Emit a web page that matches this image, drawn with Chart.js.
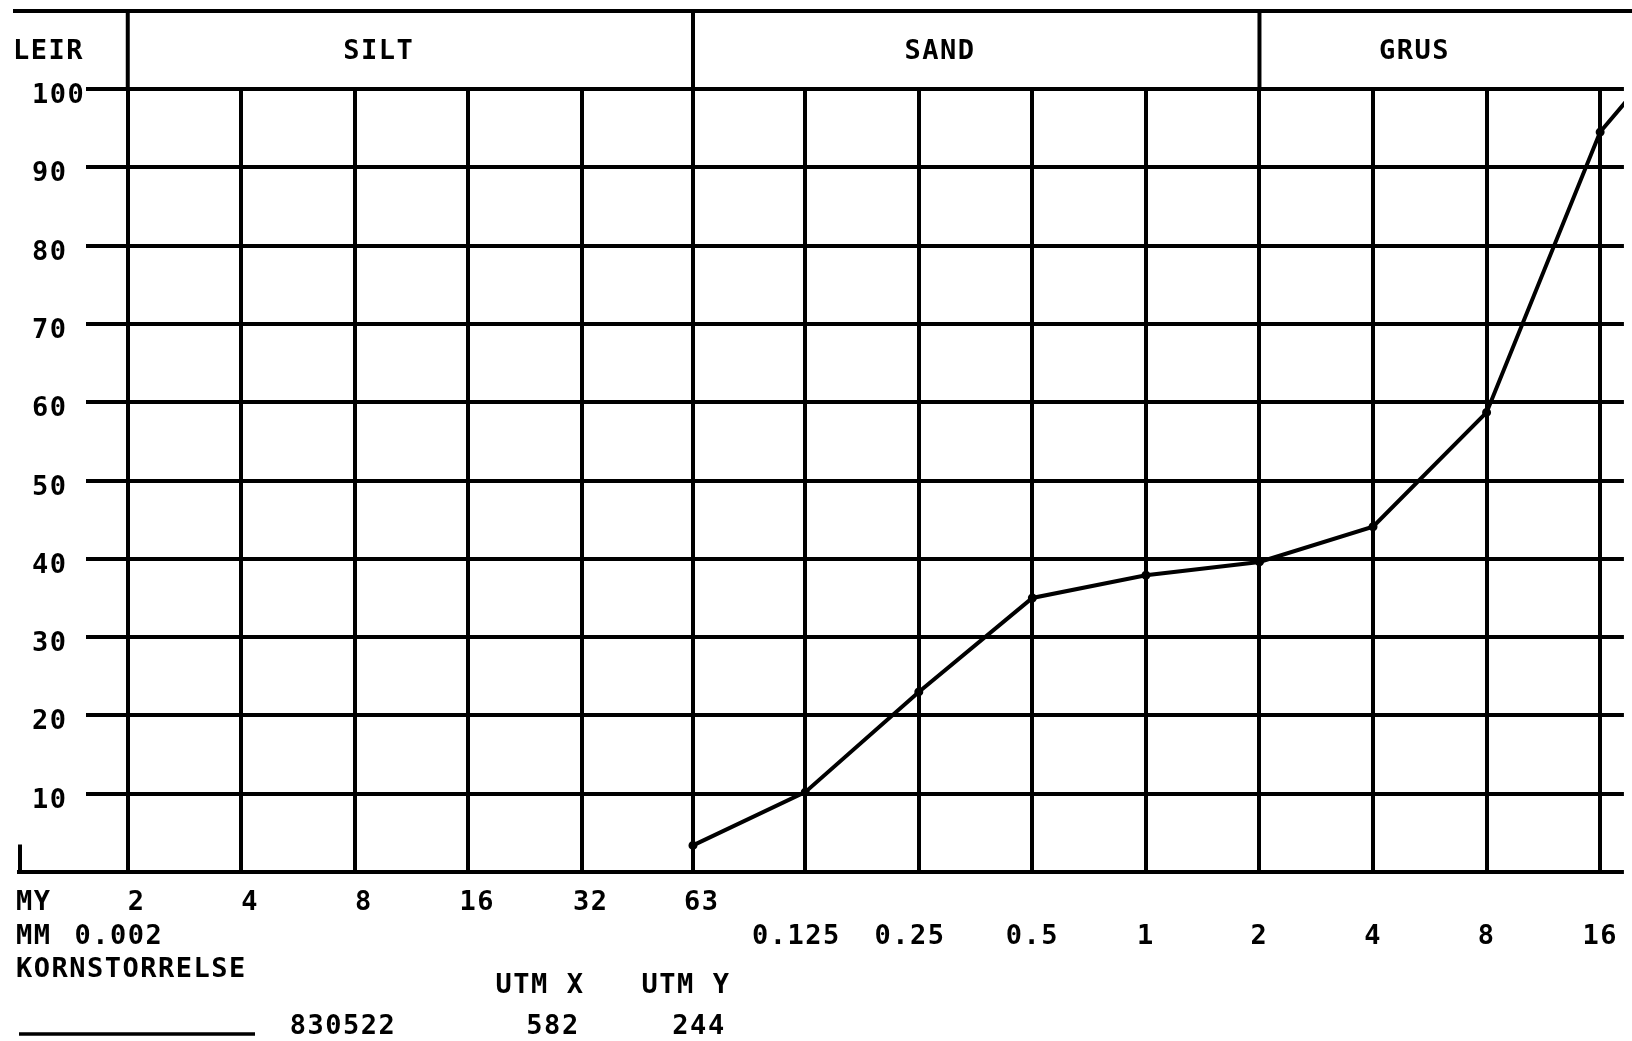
<!DOCTYPE html>
<html>
<head>
<meta charset="utf-8">
<script src="https://cdn.jsdelivr.net/npm/chart.js@4/dist/chart.umd.min.js"></script>
<style>
  html, body { margin: 0; padding: 0; background: #fff; }
  canvas { display: block; }
</style>
</head>
<body>
<canvas id="chart" width="1632" height="1041"></canvas>
<script>
// grid lines: grain sizes in mm (2 my .. 16 mm)
const gridSizes = [0.002, 0.004, 0.008, 0.016, 0.032, 0.063, 0.125, 0.25, 0.5, 1, 2, 4, 8, 16];
// tick label rows (MY row and MM row); spaces nudge the plotter offsets
const myLabels = [" 2", " 4", " 8", " 16", " 32", " 63", "", "", "", "", "", "", "", ""];
const mmLabels = ["0.002 ", "", "", "", "", "", "0.125 ", "0.25 ", "0.5", "1", "2", "4", "8", "16"];
const yTicks = [0, 10, 20, 30, 40, 50, 60, 70, 80, 90, 100];

// sample 830522: sieve size (mm) and cumulative percent passing
const sieveMm = [0.063, 0.125, 0.25, 0.5, 1, 2, 4, 8, 16, 20];
const passing = [3.4, 10.2, 23.0, 35.0, 37.9, 39.6, 44.1, 58.7, 94.5, 100];

// header classes: label and the grid size where its box starts
const classNames = ["SILT", "SAND", "GRUS"];
const classStart = [0.002, 0.063, 2];

const FONT = "bold 27px 'DejaVu Sans Mono'";
const SPACING = "1.5px";

Chart.defaults.font.family = "'DejaVu Sans Mono'";
Chart.defaults.font.size = 27;
Chart.defaults.font.weight = "bold";
Chart.defaults.color = "#000";

const plotterText = {
  id: "plotterText",
  beforeLayout(chart) {
    chart.ctx.letterSpacing = SPACING;
  },
  beforeDraw(chart) {
    const ctx = chart.ctx;
    ctx.save();
    ctx.fillStyle = "#fff";
    ctx.fillRect(0, 0, chart.width, chart.height);
    ctx.restore();
    ctx.letterSpacing = SPACING;
  },
  afterDraw(chart) {
    const ctx = chart.ctx;
    const x = chart.scales.x;
    const y = chart.scales.y;
    const area = chart.chartArea;
    ctx.save();
    ctx.strokeStyle = "#000";
    ctx.fillStyle = "#000";
    ctx.lineCap = "butt";

    // header band
    ctx.lineWidth = 4;
    ctx.beginPath();
    ctx.moveTo(13, 11);
    ctx.lineTo(chart.width, 11);
    ctx.stroke();
    classStart.forEach((s) => {
      const px = x.getPixelForValue(s);
      ctx.beginPath();
      ctx.moveTo(px, 11);
      ctx.lineTo(px, area.top);
      ctx.stroke();
    });

    // zero line runs out to the left, with a short stub
    const y0 = y.getPixelForValue(0);
    ctx.beginPath();
    ctx.moveTo(17, y0);
    ctx.lineTo(area.left, y0);
    ctx.moveTo(20, y0);
    ctx.lineTo(20, y.getPixelForValue(3.5));
    ctx.stroke();

    ctx.font = FONT;
    ctx.letterSpacing = SPACING;
    ctx.textBaseline = "middle";

    ctx.textAlign = "left";
    ctx.fillText("LEIR", 13, 52);
    ctx.textAlign = "center";
    const offsets = [251, 247, 155];
    classNames.forEach((name, i) => {
      ctx.fillText(name, x.getPixelForValue(classStart[i]) + offsets[i], 52);
    });

    ctx.textAlign = "left";
    ctx.fillText("MY", 16, 903);
    ctx.fillText("MM", 16, 937);
    ctx.fillText("KORNSTORRELSE", 16, 970);

    ctx.textAlign = "center";
    ctx.fillText("UTM X", 540, 986);
    ctx.fillText("UTM Y", 686, 986);
    ctx.fillText("830522", 343, 1027);
    ctx.fillText("582", 553, 1027);
    ctx.fillText("244", 699, 1027);

    // legend line for the sample
    ctx.lineWidth = 3.5;
    ctx.beginPath();
    ctx.moveTo(19, 1034);
    ctx.lineTo(255, 1034);
    ctx.stroke();
    ctx.restore();
  }
};

new Chart(document.getElementById("chart"), {
  type: "line",
  data: {
    datasets: [{
      label: "830522",
      data: sieveMm.map((s, i) => ({ x: s, y: passing[i] })),
      borderColor: "#000",
      backgroundColor: "#000",
      borderWidth: 4,
      pointRadius: 2.5,
      pointHoverRadius: 2.5,
      tension: 0,
      fill: false
    }]
  },
  options: {
    responsive: false,
    animation: false,
    devicePixelRatio: 1,
    layout: { padding: { left: 32, top: 89, right: 0, bottom: 0 } },
    plugins: {
      legend: { display: false },
      tooltip: { enabled: false }
    },
    scales: {
      x: {
        type: "logarithmic",
        min: 0.00155,
        max: 18.5,
        afterBuildTicks(axis) {
          axis.ticks = gridSizes.map((v) => ({ value: v }));
        },
        afterFit(axis) {
          axis.height = 169;
        },
        ticks: {
          autoSkip: false,
          maxRotation: 0,
          padding: 14,
          font: { lineHeight: "34px" },
          callback: (value, index) => [myLabels[index], mmLabels[index]]
        },
        grid: { color: "#000", lineWidth: 4, drawTicks: false },
        border: { display: false }
      },
      y: {
        min: 0,
        max: 100,
        afterBuildTicks(axis) {
          axis.ticks = yTicks.map((v) => ({ value: v }));
        },
        afterFit(axis) {
          axis.width = 54;
        },
        ticks: {
          crossAlign: "far",
          labelOffset: 7,
          callback: (value) => (value === 0 ? "" : String(value))
        },
        grid: { color: "#000", lineWidth: 4, drawTicks: false },
        border: { display: false }
      }
    }
  },
  plugins: [plotterText]
});
</script>
</body>
</html>
